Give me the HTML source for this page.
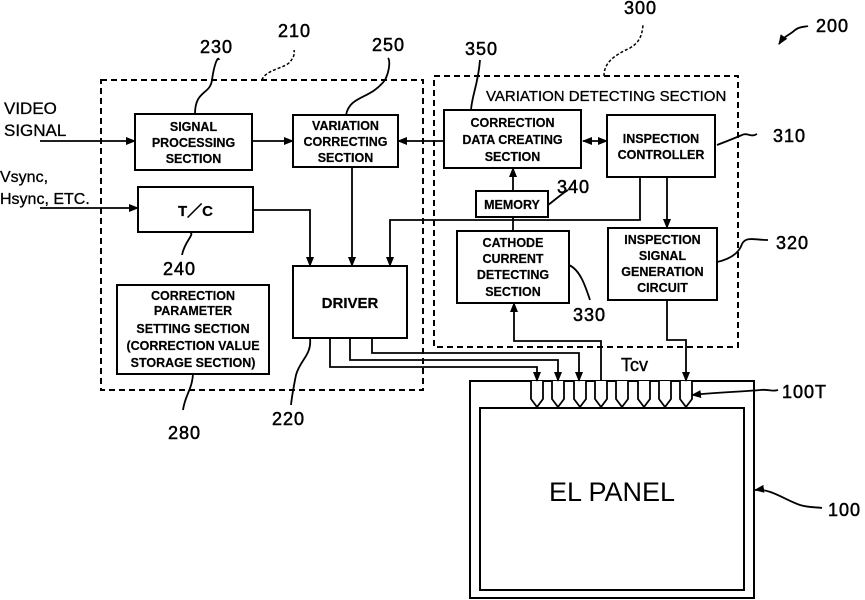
<!DOCTYPE html>
<html><head><style>
html,body{margin:0;padding:0;background:#fff;}
svg{display:block;}
text{font-family:"Liberation Sans",sans-serif;fill:#000;}
.b{font-size:12.5px;font-weight:bold;text-anchor:middle;stroke:#000;stroke-width:0.2px;}
.n{font-size:18px;stroke:#000;stroke-width:0.5px;letter-spacing:1px;}
</style></head><body>
<svg width="865" height="600" viewBox="0 0 865 600" xmlns="http://www.w3.org/2000/svg">
<defs>
<marker id="a" markerWidth="10" markerHeight="10" refX="9" refY="5" orient="auto" markerUnits="userSpaceOnUse">
<path d="M0,1 L10,5 L0,9 Z" fill="#000"/></marker>
<marker id="s" markerWidth="10" markerHeight="10" refX="1" refY="5" orient="auto" markerUnits="userSpaceOnUse">
<path d="M10,1 L0,5 L10,9 Z" fill="#000"/></marker>
</defs>
<g fill="none" stroke="#000" stroke-width="2">
<rect x="101" y="80" width="322" height="310" stroke-dasharray="6,4"/>
<rect x="434" y="76" width="304" height="271" stroke-dasharray="6,4"/>
<rect x="135" y="114" width="117" height="56"/>
<rect x="293" y="115" width="105" height="52"/>
<rect x="138" y="187" width="115" height="45"/>
<rect x="293" y="266" width="114" height="72"/>
<rect x="117" y="285" width="152" height="89"/>
<rect x="444" y="110" width="137" height="58"/>
<rect x="607" y="115" width="108" height="62"/>
<rect x="476" y="191" width="72" height="26"/>
<rect x="457" y="231" width="112" height="72"/>
<rect x="608" y="228" width="109" height="72"/>
<rect x="470" y="381" width="284" height="217"/>
<rect x="480" y="408" width="264" height="182"/>
</g>
<g fill="#fff" stroke="#000" stroke-width="1.8">
<path d="M531,381 v18 l6,8 l6,-8 v-18"/>
<path d="M552,381 v18 l6,8 l6,-8 v-18"/>
<path d="M574,381 v18 l6,8 l6,-8 v-18"/>
<path d="M595,381 v18 l6,8 l6,-8 v-18"/>
<path d="M616,381 v18 l6,8 l6,-8 v-18"/>
<path d="M638,381 v18 l6,8 l6,-8 v-18"/>
<path d="M659,381 v18 l6,8 l6,-8 v-18"/>
<path d="M680,381 v18 l6,8 l6,-8 v-18"/>
</g>
<g fill="none" stroke="#000" stroke-width="1.8">
<path d="M40,141 H135" marker-end="url(#a)"/>
<path d="M40,208 H138" marker-end="url(#a)"/>
<path d="M252,141 H293" marker-end="url(#a)"/>
<path d="M444,141 H398" marker-end="url(#a)"/>
<path d="M583,141 H607" marker-start="url(#s)" marker-end="url(#a)"/>
<path d="M253,210 H310 V266" marker-end="url(#a)"/>
<path d="M352,167 V266" marker-end="url(#a)"/>
<path d="M640,177 V220 H390 V266" marker-end="url(#a)"/>
<path d="M667,177 V228" marker-end="url(#a)"/>
<path d="M513,191 V168" marker-end="url(#a)"/>
<path d="M513,231 V217"/>
<path d="M372,338 V353 H579 V381" marker-end="url(#a)"/>
<path d="M350,338 V360 H558 V381" marker-end="url(#a)"/>
<path d="M330,338 V367 H537 V381" marker-end="url(#a)"/>
<path d="M601,381 V341 H514 V303" marker-end="url(#a)"/>
<path d="M667,300 V340 H686 V381" marker-end="url(#a)"/>
<path d="M195,114 C195,90 210,95 212,80 C214,65 218,55 219,60"/>
<path d="M346,115 C350,95 370,100 385,80 C390,70 390,60 388,58"/>
<path d="M471,110 C472,95 478,85 480,60"/>
<path d="M717,145 C730,140 735,138 742,135 C748,132 750,138 757,134"/>
<path d="M717,262 C735,258 740,250 742,244 C746,236 755,240 768,240"/>
<path d="M548,205 C555,200 560,195 568,190"/>
<path d="M569,265 C580,270 585,285 590,300"/>
<path d="M190,232 C195,235 185,240 182,255"/>
<path d="M193,374 C192,390 185,395 183,410"/>
<path d="M310,338 C312,355 300,360 296,375 C294,385 292,395 291,405"/>
<path d="M692,395 C720,392 740,392 760,390 C768,389 772,392 778,390" marker-start="url(#s)"/>
<path d="M755,490 C770,488 785,500 800,505 C810,508 818,507 822,508" marker-start="url(#s)"/>
<path d="M779,44 C785,35 790,35 795,30 C800,26 806,27 808,26" marker-start="url(#s)"/>
</g>
<g fill="none" stroke="#000" stroke-width="1.5" stroke-dasharray="3,2">
<path d="M262,80 C265,70 285,68 290,62 C293,58 295,55 294,50"/>
<path d="M604,76 C604,62 615,55 630,48 C640,42 642,35 643,25"/>
</g>
<text class="b" x="193.5" y="131">SIGNAL</text>
<text class="b" x="193.5" y="147">PROCESSING</text>
<text class="b" x="193.5" y="163">SECTION</text>
<text class="b" x="345.5" y="130">VARIATION</text>
<text class="b" x="345.5" y="146">CORRECTING</text>
<text class="b" x="345.5" y="162">SECTION</text>
<text class="b" x="195.5" y="216" style="font-size:15px">T／C</text>
<text class="b" x="350" y="308" style="font-size:15px">DRIVER</text>
<text class="b" x="193" y="300">CORRECTION</text>
<text class="b" x="193" y="315">PARAMETER</text>
<text class="b" x="193" y="333">SETTING SECTION</text>
<text class="b" x="193" y="350">(CORRECTION VALUE</text>
<text class="b" x="193" y="367">STORAGE SECTION)</text>
<text class="b" x="512.5" y="127">CORRECTION</text>
<text class="b" x="512.5" y="144">DATA CREATING</text>
<text class="b" x="512.5" y="161">SECTION</text>
<text class="b" x="661" y="143">INSPECTION</text>
<text class="b" x="661" y="159">CONTROLLER</text>
<text class="b" x="512" y="209">MEMORY</text>
<text class="b" x="513" y="247">CATHODE</text>
<text class="b" x="513" y="263">CURRENT</text>
<text class="b" x="513" y="279">DETECTING</text>
<text class="b" x="513" y="296">SECTION</text>
<text class="b" x="662.5" y="244">INSPECTION</text>
<text class="b" x="662.5" y="260">SIGNAL</text>
<text class="b" x="662.5" y="276">GENERATION</text>
<text class="b" x="662.5" y="292">CIRCUIT</text>
<text x="486" y="101" style="font-size:15px;stroke:#000;stroke-width:0.3px">VARIATION DETECTING SECTION</text>
<text x="4" y="114" style="font-size:17px;stroke:#000;stroke-width:0.3px">VIDEO</text>
<text x="4" y="136" style="font-size:17px;stroke:#000;stroke-width:0.3px">SIGNAL</text>
<text x="0" y="182" style="font-size:16px;stroke:#000;stroke-width:0.3px">Vsync,</text>
<text x="0" y="204" style="font-size:16px;stroke:#000;stroke-width:0.3px">Hsync, ETC.</text>
<text x="612" y="501" style="font-size:27px;text-anchor:middle">EL PANEL</text>
<text x="621" y="371" style="font-size:18px;stroke:#000;stroke-width:0.4px">Tcv</text>
<text class="n" x="200" y="53">230</text>
<text class="n" x="278" y="37">210</text>
<text class="n" x="372" y="51">250</text>
<text class="n" x="465" y="55">350</text>
<text class="n" x="624" y="14">300</text>
<text class="n" x="816" y="32">200</text>
<text class="n" x="773" y="142">310</text>
<text class="n" x="776" y="249">320</text>
<text class="n" x="557" y="193">340</text>
<text class="n" x="573" y="321">330</text>
<text class="n" x="163" y="275">240</text>
<text class="n" x="168" y="439">280</text>
<text class="n" x="272" y="425">220</text>
<text class="n" x="782" y="398">100T</text>
<text class="n" x="828" y="516">100</text>
</svg>
</body></html>
